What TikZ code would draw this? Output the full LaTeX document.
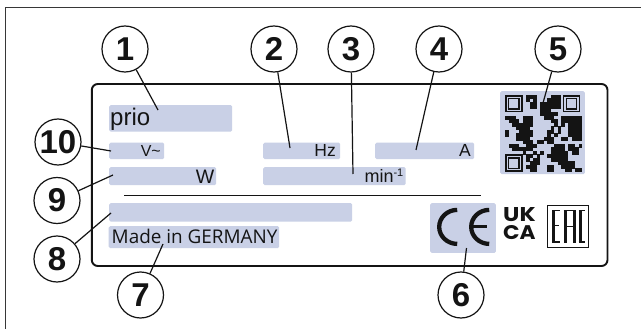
\documentclass[tikz,border=0pt]{standalone}
\usepackage{fontspec}
\setmainfont{Liberation Sans}
\newfontfamily\madefont{Open Sans}
\newfontfamily\markfont{Poppins}
\definecolor{hl}{HTML}{C9D0E6}
\definecolor{ink}{HTML}{141414}
\newcommand{\pxfont}[1]{\fontsize{#1}{#1}\selectfont}
\tikzset{
  hlbox/.style={fill=hl,draw=none,rounded corners=1.5pt,inner sep=0pt,anchor=north west},
  callout/.style={circle,draw=ink,line width=1.2pt,fill=white,minimum size=46pt,inner sep=0pt,font=\bfseries\pxfont{33},text=ink},
  leader/.style={draw=ink,line width=1.2pt},
  plate/.style={inner sep=0pt,text=ink,anchor=base east},
}
\begin{document}
\begin{tikzpicture}[x=1pt,y=-1pt]
\useasboundingbox (0,0) rectangle (641,329);
\fill[white] (0,0) rectangle (641,329);
\draw[draw=ink!85,line width=1pt] (5.8,329) -- (5.8,7.2) -- (641,7.2);
\draw[draw=ink,line width=1.9pt,rounded corners=6pt] (91.8,84) rectangle (607.5,266);
% highlighted fields
\node[hlbox,minimum width=123pt,minimum height=26.5pt] (bprio) at (109,105) {};
\node[hlbox,minimum width=55pt,minimum height=16.5pt] (bv) at (109,142.5) {};
\node[hlbox,minimum width=77pt,minimum height=16.5pt] (bhz) at (263,142.5) {};
\node[hlbox,minimum width=99pt,minimum height=16.5pt] (ba) at (375,142.5) {};
\node[hlbox,minimum width=107pt,minimum height=18pt] (bw) at (109,167) {};
\node[hlbox,minimum width=142.5pt,minimum height=18pt] (bmin) at (263,167) {};
\node[hlbox,minimum width=243pt,minimum height=18.5pt] (bblank) at (109,203) {};
\node[hlbox,minimum width=170.5pt,minimum height=22pt] (bmade) at (108.5,226) {};
\node[hlbox,minimum width=65.7pt,minimum height=49.7pt] (bce) at (430,203) {};
\node[hlbox,minimum width=84.7pt,minimum height=83pt] (bqr) at (500,91) {};
\draw[draw=ink,line width=0.8pt] (124,195) -- (481,195);
% QR code
\begin{scope}[shift={(505,95)},x=3.5pt,y=-3.5pt]
  \foreach \c/\r/\w in {
    6/0/3,13/0/3,
    6/1/1,8/1/1,12/1/4,
    7/2/2,10/2/6,
    7/3/2,10/3/6,
    10/4/3,
    10/5/5,
    0/6/3,5/6/3,11/6/3,16/6/6,
    1/7/3,5/7/3,13/7/2,16/7/6,
    2/8/6,14/8/1,16/8/1,18/8/4,
    3/9/4,13/9/1,15/9/1,18/9/4,
    0/10/1,4/10/4,12/10/2,15/10/1,18/10/4,
    0/11/1,3/11/5,12/11/1,14/11/1,18/11/4,
    3/12/4,11/12/3,16/12/2,19/12/3,
    5/13/3,9/13/2,12/13/2,
    1/14/3,6/14/3,14/14/3,18/14/2,21/14/1,
    2/15/6,13/15/4,18/15/3,
    5/16/1,8/16/1,10/16/1,13/16/5,19/16/2,
    6/17/2,9/17/1,12/17/6,
    6/18/1,8/18/2,13/18/5,
    7/19/3,15/19/5,
    6/20/3,12/20/2,16/20/4,
    7/21/2,12/21/2,17/21/2,20/21/2}
    {\fill[ink] (\c,\r) rectangle ++(\w,1.05);}
  \foreach \c/\r in {0/0,16.5/0,0/17}{
    \fill[ink] (\c,\r) rectangle ++(5,5);
    \fill[hl] (\c+.45,\r+.45) rectangle ++(4.1,4.1);
    \fill[ink] (\c+.8,\r+.8) rectangle ++(3.4,3.4);
    \fill[hl] (\c+1.2,\r+1.2) rectangle ++(2.6,2.6);
  }
\end{scope}
% CE mark
\draw[ink,line width=4.3pt] (457.2,209.9) arc[start angle=270,end angle=90,x radius=18,y radius=17];
\draw[ink,line width=4.3pt] (489.2,209.9) arc[start angle=270,end angle=90,x radius=18,y radius=17];
\draw[ink,line width=3pt] (471.5,226.9) -- (487,226.9);
% UK CA mark
\node[plate,anchor=base west,font=\markfont\bfseries\pxfont{20}] (tuk) at (503,221.5) {\resizebox{32.5pt}{14pt}{UK}};
\node[plate,anchor=base west,font=\markfont\bfseries\pxfont{20}] (tca) at (503,240) {\resizebox{32.5pt}{14pt}{CA}};
% EAC mark
\draw[ink,line width=1pt] (547.2,205.5) rectangle (588.2,247.2);
\fill[ink] (552,210) rectangle ++(3,32.5);
\draw[ink,line width=1.5pt] (552,210.7) -- (560,210.7) (552,225.5) -- (559,225.5) (552,241.8) -- (560,241.8);
\fill[ink] (563.5,210) rectangle ++(3,32.5);
\fill[ink] (572.5,210) rectangle ++(3,32.5);
\draw[ink,line width=1.5pt] (563.5,210.7) -- (575.5,210.7) (565,226.5) -- (574,226.5);
\fill[ink] (578.7,210) rectangle ++(3,32.5);
\draw[ink,line width=1.5pt] (578.7,210.7) -- (585,210.7) (578.7,241.8) -- (585,241.8);
% texts
\node[plate,anchor=base west,font=\pxfont{24}] (tprio) at (110,125) {prio};
\node[plate,font=\pxfont{16}] (tv) at (161,157) {V\char`\~};
\node[plate,font=\pxfont{17.5}] (thz) at (336,157) {Hz};
\node[plate,font=\pxfont{17.5}] (ta) at (471,157) {A};
\node[plate,font=\pxfont{19.5}] (tw) at (214.5,183.3) {W};
\node[plate,font=\pxfont{18}] (tmin) at (403.5,182.7) {min\raisebox{6pt}{\pxfont{11}-1}};
\node[plate,anchor=base west,font=\madefont\pxfont{18.9}] (tmade) at (111.5,243) {Made in GERMANY};
% callouts
\node[callout] (c1) at (125,49) {1};
\node[callout] (c2) at (274,49) {2};
\node[callout] (c3) at (351,49) {3};
\node[callout] (c4) at (439,49) {4};
\node[callout] (c5) at (558,49) {5};
\node[callout] (c6) at (461,295) {6};
\node[callout] (c7) at (140.5,295) {7};
\node[callout] (c8) at (57,259) {8};
\node[callout] (c9) at (57,200.5) {9};
\node[callout] (c10) at (58,142) {10};
\coordinate (e1) at (158,110);
\coordinate (e2) at (290,148);
\coordinate (e3) at (353,174);
\coordinate (e4) at (416,150);
\coordinate (e5) at (543,103);
\coordinate (e6) at (466.5,248);
\coordinate (e7) at (163,244);
\coordinate (e8) at (111,213);
\coordinate (e9) at (113,175);
\coordinate (e10) at (111,151);
\foreach \i in {1,...,10}{\draw[leader] (c\i) -- (e\i);}
\end{tikzpicture}
\end{document}
